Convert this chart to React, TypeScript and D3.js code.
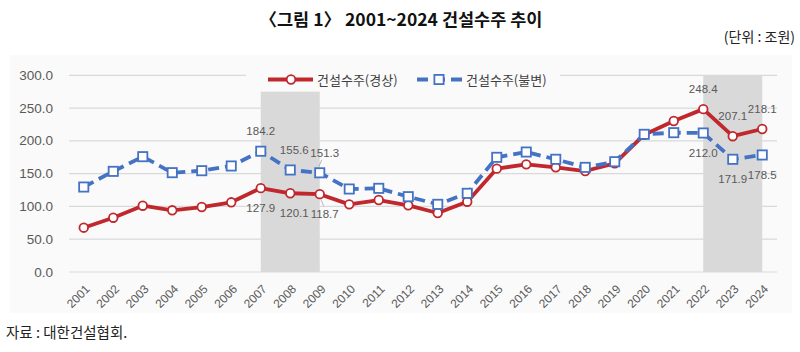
import React from "react";
import * as d3 from "d3";

const years = ["2001","2002","2003","2004","2005","2006","2007","2008","2009","2010","2011","2012","2013","2014","2015","2016","2017","2018","2019","2020","2021","2022","2023","2024"];
const nominal = [67.6, 82.8, 101.1, 94.1, 99.1, 106.3, 127.9, 120.1, 118.7, 103.2, 109.8, 101.7, 90.0, 107.2, 157.6, 164.2, 159.6, 154.0, 165.7, 209.4, 230.3, 248.4, 207.1, 218.1];
const constant = [129.6, 153.5, 175.9, 151.5, 154.5, 161.7, 184.2, 155.6, 151.3, 126.6, 127.6, 114.9, 103.2, 120.0, 174.9, 183.0, 171.9, 159.6, 168.2, 210.0, 212.5, 212.0, 171.9, 178.5];
const yTicks = [0, 50, 100, 150, 200, 250, 300];
const seriesNames = ["건설수주(경상)", "건설수주(불변)"];
const shadeRanges = [
  { from: "2007", to: "2009", top: 275 },
  { from: "2022", to: "2024", top: 300 },
];
const nominalLabelYears = ["2007", "2008", "2009", "2022", "2023", "2024"];
const nominalLabelSide = ["below", "below", "below", "above", "above", "above"];
const constantLabelYears = ["2007", "2008", "2009", "2022", "2023", "2024"];
const constantLabelSide = ["above", "above", "above", "below", "below", "below"];

const W = 800;
const H = 352;
const RED = "#c0282d";
const BLUE = "#4472c4";
const TXT = "#595959";
const NUM_FONT = "'Liberation Sans', Arial, sans-serif";
const KR_FONT = "'Noto Sans CJK KR', 'Noto Sans', sans-serif";

export default function App() {
  const x = d3.scaleBand<string>().domain(years).range([69, 777]);
  const cx = (yr: string) => (x(yr) as number) + x.bandwidth() / 2;
  const y = d3.scaleLinear().domain([0, 300]).range([272, 75.3]);

  const line = d3
    .line<number>()
    .x((_, i) => cx(years[i]))
    .y((d) => y(d));

  const labelDx: Record<string, number> = { "2008": 4, "2009": 5 };

  const renderLabels = (vals: number[], ys: string[], sides: string[], key: string) =>
    ys.map((yr, k) => {
      const i = years.indexOf(yr);
      const above = sides[k] === "above";
      return (
        <text
          key={key + yr}
          x={cx(yr) + (labelDx[yr] || 0)}
          y={y(vals[i]) + (above ? -20 : 20)}
          textAnchor="middle"
          dominantBaseline="central"
          fontFamily={NUM_FONT}
          fontSize={11.5}
          fill={TXT}
        >
          {vals[i].toFixed(1)}
        </text>
      );
    });

  const i09 = years.indexOf("2009");

  return (
    <svg width={W} height={H} style={{ position: "absolute", left: 0, top: 0, background: "#fff" }}>
      <rect x={0} y={0} width={W} height={H} fill="#fff" />
      <text x={401} y={26} textAnchor="middle" fontFamily={KR_FONT} fontWeight="bold" fontSize={17.5} fill="#111">
        〈그림 1〉 2001~2024 건설수주 추이
      </text>
      <text x={795} y={42} textAnchor="end" fontFamily={KR_FONT} fontSize={14} fill="#222">
        (단위 : 조원)
      </text>

      <rect x={10} y={55} width={782} height={258} fill="#fafafa" />

      {yTicks.map((t) => (
        <g key={t}>
          <line x1={69} x2={777} y1={y(t)} y2={y(t)} stroke="#d9d9d9" strokeWidth={1.2} />
          <text
            x={53}
            y={y(t)}
            textAnchor="end"
            dominantBaseline="central"
            fontFamily={NUM_FONT}
            fontSize={13.5}
            fill={TXT}
          >
            {t.toFixed(1)}
          </text>
        </g>
      ))}

      {shadeRanges.map((s) => (
        <rect
          key={s.from}
          x={cx(s.from)}
          width={cx(s.to) - cx(s.from)}
          y={y(s.top)}
          height={y(0) - y(s.top)}
          fill="#d9d9d9"
        />
      ))}

      {years.map((yr) => (
        <text
          key={yr}
          transform={`translate(${cx(yr) + 4},${y(0) + 15}) rotate(-45)`}
          textAnchor="end"
          dominantBaseline="central"
          fontFamily={NUM_FONT}
          fontSize={12}
          fill={TXT}
        >
          {yr}
        </text>
      ))}

      <path d={line(nominal) || ""} fill="none" stroke={RED} strokeWidth={3.8} strokeLinejoin="round" />
      <path
        d={line(constant) || ""}
        fill="none"
        stroke={BLUE}
        strokeWidth={3.8}
        strokeDasharray="11 6"
      />
      {nominal.map((v, i) => (
        <circle key={"n" + i} cx={cx(years[i])} cy={y(v)} r={4.3} fill="#fff" stroke={RED} strokeWidth={1.8} />
      ))}
      {constant.map((v, i) => (
        <rect
          key={"c" + i}
          x={cx(years[i]) - 4.6}
          y={y(v) - 4.6}
          width={9.2}
          height={9.2}
          fill="#fff"
          stroke={BLUE}
          strokeWidth={1.8}
        />
      ))}

      <line
        x1={cx("2009") + 2}
        x2={cx("2009") - 1}
        y1={y(constant[i09]) - 13}
        y2={y(constant[i09]) - 6}
        stroke="#a6a6a6"
        strokeWidth={0.8}
      />
      <line
        x1={cx("2009") + 1}
        x2={cx("2009") + 4}
        y1={y(nominal[i09]) + 5}
        y2={y(nominal[i09]) + 12}
        stroke="#a6a6a6"
        strokeWidth={0.8}
      />

      {renderLabels(constant, constantLabelYears, constantLabelSide, "c")}
      {renderLabels(nominal, nominalLabelYears, nominalLabelSide, "n")}

      <g>
        <rect x={246} y={67} width={314} height={24} fill="#fafafa" />
        <line x1={268} x2={313} y1={79.5} y2={79.5} stroke={RED} strokeWidth={3.8} />
        <circle cx={291} cy={79.5} r={4.3} fill="#fff" stroke={RED} strokeWidth={1.8} />
        <text x={317} y={79.5} dominantBaseline="central" fontFamily={KR_FONT} fontSize={13} fill="#404040">
          {seriesNames[0]}
        </text>
        <line x1={417} x2={462} y1={79.5} y2={79.5} stroke={BLUE} strokeWidth={3.8} strokeDasharray="11 6" />
        <rect x={434.4} y={74.9} width={9.2} height={9.2} fill="#fff" stroke={BLUE} strokeWidth={1.8} />
        <text x={466} y={79.5} dominantBaseline="central" fontFamily={KR_FONT} fontSize={13} fill="#404040">
          {seriesNames[1]}
        </text>
      </g>

      <text x={6} y={338} fontFamily={KR_FONT} fontSize={14.5} fill="#222">
        자료 : 대한건설협회.
      </text>
    </svg>
  );
}
